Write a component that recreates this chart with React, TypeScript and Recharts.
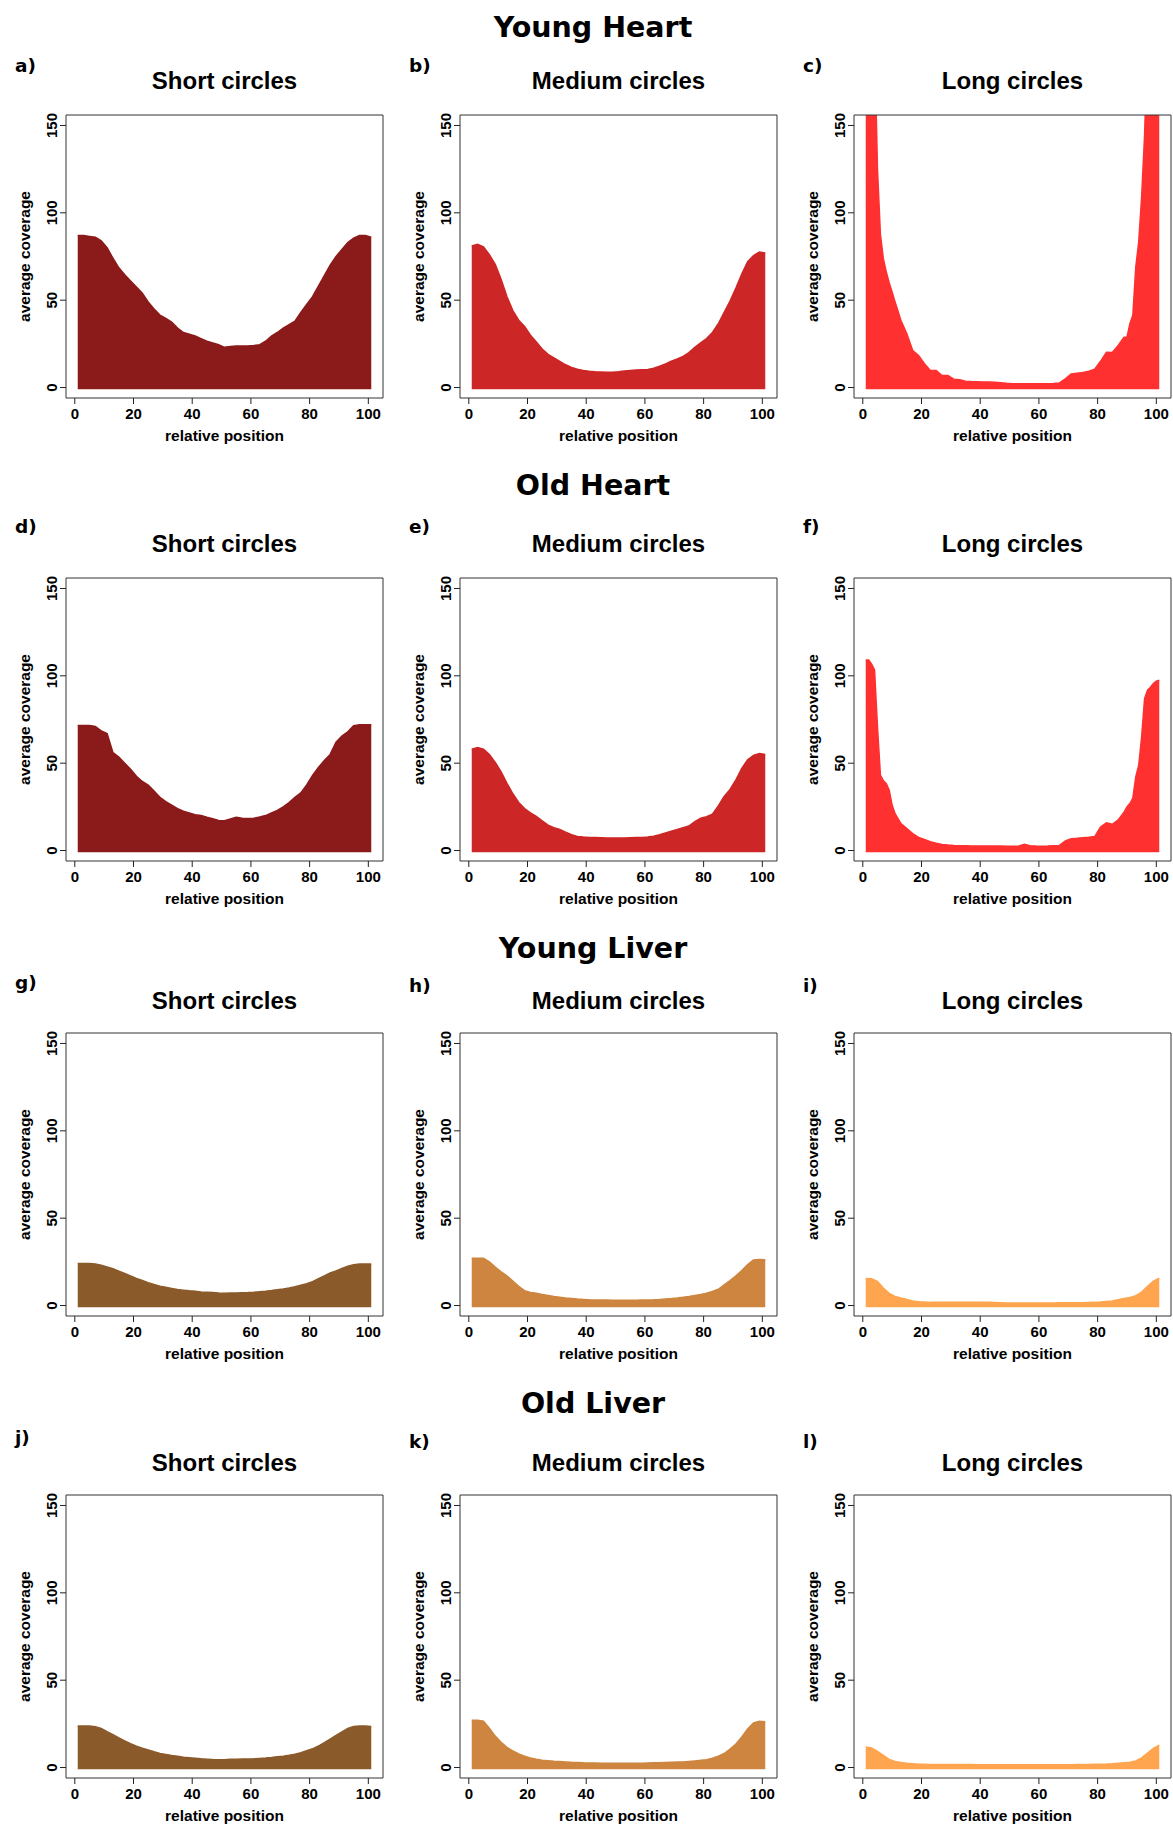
import { AreaChart, Area, XAxis, YAxis, ReferenceArea } from 'recharts';

// relative position of each sampled point (every second position)
const POSITIONS = [
  1, 3, 5, 7, 9, 11, 13, 15, 17, 19, 21, 23, 25, 27, 29, 31, 33, 35, 37, 39, 41, 43, 45, 47, 49,
  51, 53, 55, 57, 59, 61, 63, 65, 67, 69, 71, 73, 75, 77, 79, 81, 83, 85, 87, 89, 91, 93, 95, 97, 99, 101,
];
// long heart circles change fast at the ends, so those are read at every position there
const LONG_HEART_POSITIONS = [
  1, 2, 3, 4, 5, 6, 7, 8, 9, 10, 11, 13, 15, 17, 19, 21, 23, 25, 27, 29, 31, 33, 35, 37, 39,
  41, 43, 45, 47, 49, 51, 53, 55, 57, 59, 61, 63, 65, 67, 69, 71, 73, 75, 77, 79, 81, 83, 85, 87, 89,
  90, 91, 92, 93, 94, 95, 96, 97, 98, 99, 100, 101,
];

// average coverage
const YOUNG_HEART_SHORT = [
  87, 87, 86.5, 86, 84, 80, 74, 68.5, 64.5, 61, 57.5, 54, 49, 45, 41.5, 39.5, 37.5, 34, 31.5, 30.5,
  29.5, 28, 26.5, 25.5, 24.5, 23, 23.5, 23.7, 23.7, 23.7, 24, 24.5, 26.5, 29.5, 31.5, 34, 36, 38, 43, 47.5,
  52, 58, 64, 70, 75, 79, 83, 85.5, 87, 87, 86,
];
const YOUNG_HEART_MEDIUM = [
  81, 82, 80.5, 76, 70.5, 62, 52, 44, 38.5, 35, 30, 26, 22, 19, 17, 15, 13, 11.5, 10.5, 9.7,
  9.3, 9, 8.9, 8.8, 8.8, 9, 9.4, 9.7, 10, 10.2, 10.3, 11, 12.2, 13.5, 15, 16.3, 17.8, 20, 23, 25.5,
  28, 31.5, 36.5, 43, 49.5, 57, 65, 72, 75.5, 77.5, 77,
];
const YOUNG_HEART_LONG = [
  200, 200, 200, 200, 125, 87.5, 73.7, 66.1, 59.8, 54.6, 48.9,
  38.4, 30.8, 21.2, 18.3, 13.6, 9.7, 9.7, 6.9, 6.9, 4.8, 4.4, 3.6, 3.4, 3.3,
  3.2, 3.1, 3.0, 2.8, 2.4, 2.2, 2.1, 2.1, 2.1, 2.1, 2.1, 2.1, 2.3, 2.6, 5, 7.8, 8.2, 8.6, 9.3, 10.5,
  15, 20.2, 20, 24.1, 28.8,
  28.8, 36.5, 41.3, 68.9, 83.3, 109, 144.4, 200, 200, 200, 200, 200,
];
const OLD_HEART_SHORT = [
  71.5, 71.5, 71.5, 71, 68.5, 67, 56, 53.5, 50, 46.5, 42.5, 39.5, 37.5, 34, 30.5, 28, 26, 24, 22.5, 21.5,
  20.5, 20, 19, 18.2, 17.2, 17, 18, 19, 18.5, 18.3, 18.5, 19.2, 20, 21.5, 23, 25, 27.5, 30.5, 33, 37.5,
  43, 47.5, 51.5, 55, 62, 65.5, 68, 71.5, 72, 72, 72,
];
const OLD_HEART_MEDIUM = [
  58, 59, 58, 55, 50.5, 45, 38.5, 32.5, 27.5, 24, 21.5, 19.5, 17, 14.5, 13, 12, 10.5, 9, 8, 7.7,
  7.5, 7.4, 7.3, 7.2, 7.2, 7.2, 7.2, 7.3, 7.4, 7.5, 7.7, 8.2, 9, 10, 11, 12, 13, 14, 16.5, 18.5,
  19.3, 20.8, 25.5, 31, 35, 40.5, 47, 52, 54.5, 55.5, 55,
];
const OLD_HEART_LONG = [
  109, 109, 106.7, 103.3, 70.8, 43.1, 40, 38.3, 34.5, 25.9, 21.1,
  15.4, 12.5, 9.7, 7.5, 6.3, 5, 4.2, 3.5, 3.1, 2.9, 2.8, 2.7, 2.6, 2.6,
  2.6, 2.6, 2.6, 2.6, 2.5, 2.4, 2.5, 3.6, 2.8, 2.6, 2.5, 2.6, 2.8, 2.9, 5.5, 6.8, 7, 7.3, 7.6, 8,
  13.5, 15.8, 15, 17.5, 22,
  24.9, 26.9, 30, 42.1, 48.8, 65, 87, 91.8, 93.5, 95.6, 97, 97.5,
];
const YOUNG_LIVER_SHORT = [
  24, 24, 24, 23.7, 23, 22, 21, 19.7, 18.4, 16.9, 15.5, 14.3, 13.1, 12, 11.1, 10.4, 9.8, 9.2, 8.8, 8.4,
  8.1, 7.8, 7.6, 7.4, 7.1, 7, 7.1, 7.2, 7.3, 7.4, 7.6, 7.9, 8.2, 8.6, 9.1, 9.5, 10, 10.7, 11.6, 12.5,
  13.7, 15.3, 17, 18.6, 19.8, 21.2, 22.5, 23.4, 23.8, 23.8, 23.7,
];
const YOUNG_LIVER_MEDIUM = [
  27, 27, 27, 25, 22, 19.3, 17, 14, 11, 8.5, 7.5, 7, 6.3, 5.8, 5.2, 4.8, 4.3, 4, 3.7, 3.5,
  3.3, 3.2, 3.1, 3.1, 3, 3, 3, 3, 3, 3.1, 3.2, 3.3, 3.5, 3.8, 4, 4.3, 4.7, 5.2, 5.8, 6.3,
  7, 8, 9.3, 11.8, 14.3, 17, 20, 23.5, 26, 26.3, 26.2,
];
const YOUNG_LIVER_LONG = [
  15.5, 15.3, 13.8, 10, 7, 5.2, 4.3, 3.5, 2.6, 2.2, 2, 1.8, 1.8, 1.8, 1.8, 1.8, 1.8, 1.8, 1.8, 1.8,
  1.8, 1.8, 1.7, 1.6, 1.5, 1.4, 1.4, 1.4, 1.4, 1.5, 1.5, 1.5, 1.5, 1.6, 1.6, 1.6, 1.6, 1.6, 1.7, 1.8,
  2, 2.3, 2.6, 3.3, 4, 4.6, 5.6, 7.7, 11, 14, 15.6,
];
const OLD_LIVER_SHORT = [
  23.8, 23.8, 23.7, 23.4, 22.3, 20.5, 18.8, 17, 15.2, 13.6, 12.2, 11, 10, 9, 8.1, 7.5, 6.9, 6.4, 5.9, 5.6,
  5.3, 5, 4.8, 4.6, 4.5, 4.5, 4.7, 4.8, 4.9, 4.9, 5, 5.2, 5.4, 5.7, 6.1, 6.5, 7, 7.6, 8.5, 9.6,
  10.7, 12.3, 14.2, 16.3, 18.4, 20.4, 22.4, 23.5, 23.8, 23.8, 23.5,
];
const OLD_LIVER_MEDIUM = [
  27, 27, 26.5, 22.5, 18, 14.5, 11.5, 9.5, 7.8, 6.5, 5.4, 4.7, 4.2, 3.9, 3.6, 3.4, 3.2, 3, 2.9, 2.7,
  2.6, 2.6, 2.5, 2.5, 2.4, 2.4, 2.4, 2.4, 2.4, 2.5, 2.6, 2.7, 2.8, 2.9, 3, 3.1, 3.2, 3.5, 3.8, 4.1,
  4.5, 5.3, 6.5, 8, 10.5, 13.5, 17.5, 22, 25.5, 26.5, 26.2,
];
const OLD_LIVER_LONG = [
  11.7, 11.2, 9.3, 7, 4.6, 3.5, 2.9, 2.5, 2.2, 1.9, 1.8, 1.7, 1.7, 1.7, 1.7, 1.7, 1.7, 1.7, 1.7, 1.6,
  1.6, 1.6, 1.6, 1.6, 1.6, 1.6, 1.6, 1.6, 1.6, 1.6, 1.6, 1.6, 1.6, 1.6, 1.6, 1.6, 1.7, 1.7, 1.7, 1.8,
  1.9, 2, 2.2, 2.5, 2.8, 3, 3.8, 5.5, 8.3, 11, 12.8,
];

const X_TICKS = [0, 20, 40, 60, 80, 100];
const Y_TICKS = [0, 50, 100, 150];

const GROUP_TITLES = ['Young Heart', 'Old Heart', 'Young Liver', 'Old Liver'];
const CIRCLE_TITLES = ['Short circles', 'Medium circles', 'Long circles'];
const PANEL_LETTERS = [
  ['a)', 'b)', 'c)'],
  ['d)', 'e)', 'f)'],
  ['g)', 'h)', 'i)'],
  ['j)', 'k)', 'l)'],
];

const GROUP_SERIES = [
  [YOUNG_HEART_SHORT, YOUNG_HEART_MEDIUM, YOUNG_HEART_LONG],
  [OLD_HEART_SHORT, OLD_HEART_MEDIUM, OLD_HEART_LONG],
  [YOUNG_LIVER_SHORT, YOUNG_LIVER_MEDIUM, YOUNG_LIVER_LONG],
  [OLD_LIVER_SHORT, OLD_LIVER_MEDIUM, OLD_LIVER_LONG],
];
const GROUP_POSITIONS = [
  [POSITIONS, POSITIONS, LONG_HEART_POSITIONS],
  [POSITIONS, POSITIONS, LONG_HEART_POSITIONS],
  [POSITIONS, POSITIONS, POSITIONS],
  [POSITIONS, POSITIONS, POSITIONS],
];

const HEART_COLORS = ['#8B1A1A', '#CD2626', '#FF3030'];
const LIVER_COLORS = ['#8B5A2B', '#CD853F', '#FFA54F'];
const GROUP_COLORS = [HEART_COLORS, HEART_COLORS, LIVER_COLORS, LIVER_COLORS];

// page layout, px
const COL_LEFT = [66, 460, 854];
const ROW_TOP = [115, 578, 1033, 1495];
const PLOT_W = 317;
const PLOT_H = 283;
const AXIS_W = 66;
const TOP_PAD = 15;
const X_AXIS_H = 50;
const TITLE_BASE = [37, 495, 958, 1413];
const SUBTITLE_BASE = [89, 552, 1009, 1471];
const LETTER_LEFT = [15, 409, 803];
const LETTER_BASE = [
  [72, 72, 72],
  [533, 533, 533],
  [989, 992, 992],
  [1444, 1448, 1448],
];

const FONT = "'Liberation Sans', Arial, Helvetica, sans-serif";
const TITLE_FONT = "'DejaVu Sans', 'Noto Sans', sans-serif";

function RotatedTick({ x, y, payload }: any) {
  return (
    <text
      x={x}
      y={y}
      transform={`rotate(-90 ${x} ${y})`}
      textAnchor="middle"
      fill="#000"
      fontSize={15}
      fontWeight={700}
      fontFamily={FONT}
    >
      {payload.value}
    </text>
  );
}

function CoveragePanel({
  positions,
  values,
  color,
  left,
  top,
}: {
  positions: number[];
  values: number[];
  color: string;
  left: number;
  top: number;
}) {
  const data = positions.map((pos, i) => ({ pos, coverage: values[i] }));
  return (
    <div style={{ position: 'absolute', left: left - AXIS_W, top: top - TOP_PAD }}>
      <AreaChart
        width={AXIS_W + PLOT_W + 2}
        height={TOP_PAD + PLOT_H + X_AXIS_H}
        data={data}
        margin={{ top: TOP_PAD, right: 2, bottom: 0, left: 0 }}
      >
        <XAxis
          dataKey="pos"
          type="number"
          domain={[-3, 105]}
          ticks={X_TICKS}
          interval={0}
          allowDataOverflow
          height={X_AXIS_H}
          axisLine={false}
          tickSize={6}
          tickMargin={4}
          tickLine={{ stroke: '#222' }}
          tick={{ fill: '#000', fontSize: 15, fontWeight: 700, fontFamily: FONT }}
          label={{
            value: 'relative position',
            position: 'insideBottom',
            offset: 7,
            fill: '#000',
            fontSize: 15.5,
            fontWeight: 700,
            fontFamily: FONT,
          }}
        />
        <YAxis
          type="number"
          domain={[-6, 156]}
          ticks={Y_TICKS}
          interval={0}
          allowDataOverflow
          width={AXIS_W}
          axisLine={false}
          tickSize={6}
          tickMargin={3}
          tickLine={{ stroke: '#222' }}
          tick={RotatedTick}
          label={{
            value: 'average coverage',
            angle: -90,
            position: 'insideLeft',
            offset: 24,
            fill: '#000',
            fontSize: 15.5,
            fontWeight: 700,
            fontFamily: FONT,
            style: { textAnchor: 'middle' },
          }}
        />
        <Area
          type="linear"
          dataKey="coverage"
          baseValue={-1}
          stroke={color}
          strokeWidth={1.5}
          fill={color}
          fillOpacity={1}
          dot={false}
          activeDot={false}
          isAnimationActive={false}
        />
        <ReferenceArea x1={-3} x2={105} y1={-6} y2={156} fill="none" stroke="#333" strokeWidth={1} ifOverflow="visible" />
      </AreaChart>
    </div>
  );
}

export default function App() {
  return (
    <div style={{ position: 'absolute', left: 0, top: 0, width: 1173, height: 1825, background: '#fff' }}>
      {GROUP_SERIES.map((row, r) =>
        row.map((values, c) => (
          <CoveragePanel
            key={`${r}-${c}`}
            positions={GROUP_POSITIONS[r][c]}
            values={values}
            color={GROUP_COLORS[r][c]}
            left={COL_LEFT[c]}
            top={ROW_TOP[r]}
          />
        ))
      )}
      <svg width={1173} height={1825} style={{ position: 'absolute', left: 0, top: 0, pointerEvents: 'none' }}>
        {GROUP_TITLES.map((t, r) => (
          <text key={t} x={593} y={TITLE_BASE[r]} textAnchor="middle" fontFamily={TITLE_FONT} fontWeight={700} fontSize={28.5} fill="#000">
            {t}
          </text>
        ))}
        {GROUP_TITLES.map((_, r) =>
          CIRCLE_TITLES.map((t, c) => (
            <text
              key={`sub-${r}-${c}`}
              x={COL_LEFT[c] + PLOT_W / 2}
              y={SUBTITLE_BASE[r]}
              textAnchor="middle"
              fontFamily={FONT}
              fontWeight={700}
              fontSize={24}
              fill="#000"
            >
              {t}
            </text>
          ))
        )}
        {PANEL_LETTERS.map((row, r) =>
          row.map((t, c) => (
            <text key={t} x={LETTER_LEFT[c]} y={LETTER_BASE[r][c]} fontFamily={TITLE_FONT} fontWeight={700} fontSize={18.5} fill="#000">
              {t}
            </text>
          ))
        )}
      </svg>
    </div>
  );
}
